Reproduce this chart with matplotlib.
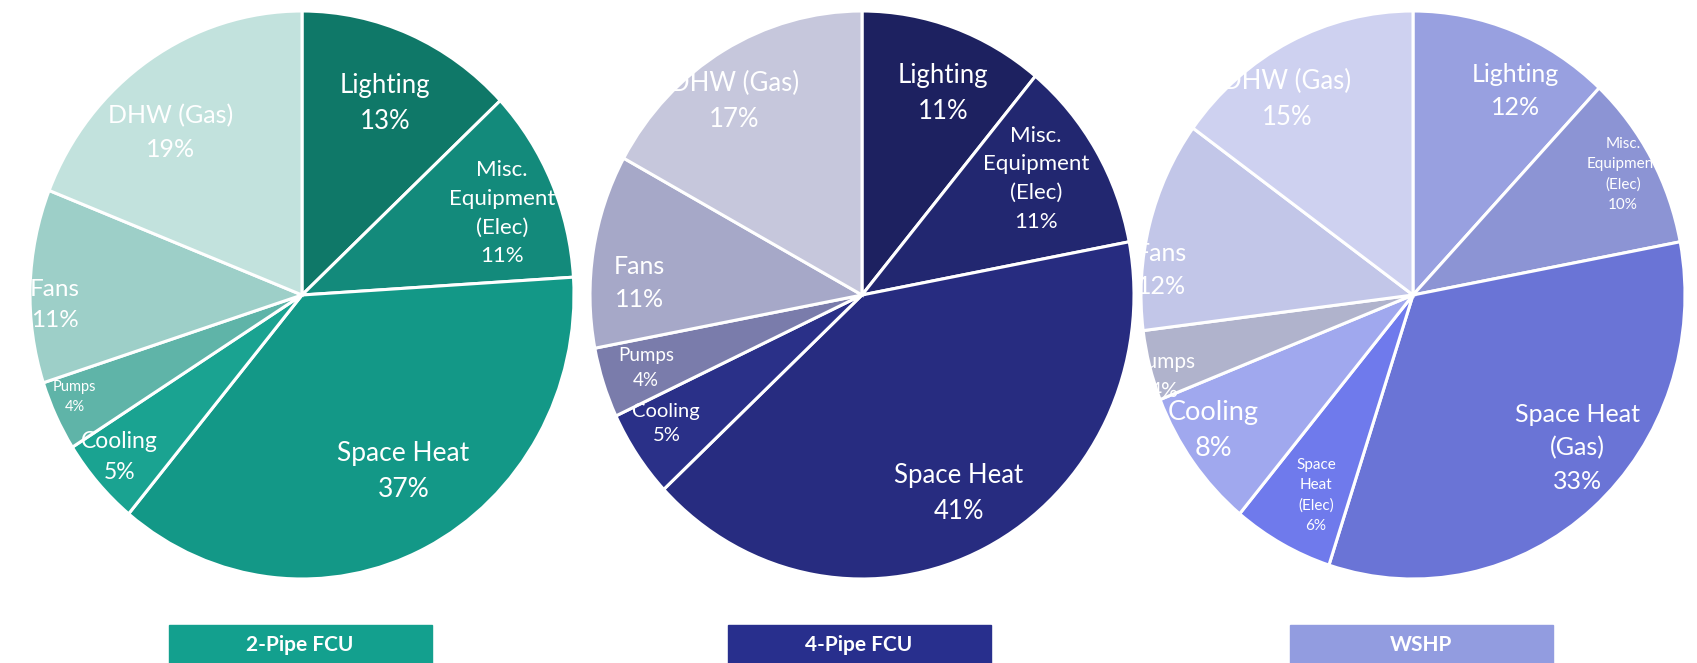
import numpy as np
import matplotlib.pyplot as plt
from matplotlib.patches import Rectangle

plt.rcParams['font.family'] = ['Lato', 'DejaVu Sans']

W, H = 1697, 663

# energy end-use breakdown per HVAC system (clockwise from 12 o'clock)
systems = ["2-Pipe FCU", "4-Pipe FCU", "WSHP"]

fcu2_labels = ["Lighting", "Misc.\nEquipment\n(Elec)", "Space Heat", "Cooling",
               "Pumps", "Fans", "DHW (Gas)"]
fcu2_values = [13, 11, 37, 5, 4, 11, 19]

fcu4_labels = ["Lighting", "Misc.\nEquipment\n(Elec)", "Space Heat", "Cooling",
               "Pumps", "Fans", "DHW (Gas)"]
fcu4_values = [11, 11, 41, 5, 4, 11, 17]

wshp_labels = ["Lighting", "Misc.\nEquipment\n(Elec)", "Space Heat\n(Gas)",
               "Space\nHeat\n(Elec)", "Cooling", "Pumps", "Fans", "DHW (Gas)"]
wshp_values = [12, 10, 33, 6, 8, 4, 12, 15]

fcu2_colors = ["#0f7868", "#138a7b", "#139887", "#1aa391", "#5fb4a8", "#9dcfc8", "#c2e2dd"]
fcu4_colors = ["#1d2160", "#222770", "#272c80", "#2a3088", "#7a7cab", "#a6a8c8", "#c6c7dc"]
wshp_colors = ["#98a0e0", "#8c94d4", "#6a74d6", "#6f7aec", "#a0a8ee", "#b0b3cc", "#c2c6e8", "#ced1f0"]
box_colors = ["#13a08e", "#282f8d", "#929ce0"]

# label placement: radius fraction, angle nudge (deg) and font size per wedge
fcu2_rad = [0.74, 0.79, 0.725, 0.88, 0.91, 0.91, 0.75]
fcu2_nudge = [-1, -2, 4, -1, -2, 4, 6]
fcu2_fs = [18.5, 16, 19, 16.5, 10.5, 17.5, 18]
fcu4_rad = [0.77, 0.76, 0.785, 0.85, 0.835, 0.82, 0.826]
fcu4_nudge = [-3, 2, 0, -2, 0, 6, 4]
fcu4_fs = [18.5, 16, 18.5, 14.5, 13.5, 18, 18.5]
wshp_rad = [0.81, 0.88, 0.81, 0.79, 0.877, 0.96, 0.93, 0.83]
wshp_nudge = [-6, 0, 7, 2, -3, 3, 9, 7]
wshp_fs = [18, 11, 18, 11, 19.5, 15, 18, 18.5]

pies = [
    (fcu2_labels, fcu2_values, fcu2_colors, fcu2_rad, fcu2_nudge, fcu2_fs),
    (fcu4_labels, fcu4_values, fcu4_colors, fcu4_rad, fcu4_nudge, fcu4_fs),
    (wshp_labels, wshp_values, wshp_colors, wshp_rad, wshp_nudge, wshp_fs),
]
centers_x = [302, 862, 1413]
box_centers = [300, 859, 1421]
cy, rx, ry = 295, 272, 284

fig = plt.figure(figsize=(W / 100, H / 100), dpi=100)
fig.patch.set_facecolor("white")

for i, (labels, values, colors, rads, nudges, sizes) in enumerate(pies):
    cx = centers_x[i]
    ax = fig.add_axes([(cx - rx) / W, (H - cy - ry) / H, 2 * rx / W, 2 * ry / H])
    ax.pie(values, colors=colors, startangle=90, counterclock=False, radius=1,
           wedgeprops=dict(edgecolor="white", linewidth=2.2))
    ax.set_xlim(-1, 1)
    ax.set_ylim(-1, 1)
    ax.set_aspect("auto")
    ax.axis("off")

    total = sum(values)
    cum = 0
    for lab, v, r, nd, fs in zip(labels, values, rads, nudges, sizes):
        theta = np.deg2rad(90 - 360 * (cum + v / 2) / total + nd)
        cum += v
        ax.text(r * np.cos(theta), r * np.sin(theta), f"{lab}\n{v}%",
                ha="center", va="center", color="white", fontsize=fs,
                linespacing=1.55)

    # system name box under each pie
    bw = 263
    bx = box_centers[i]
    fig.patches.append(Rectangle(((bx - bw / 2) / W, 0), bw / W, (H - 625) / H,
                                 transform=fig.transFigure, color=box_colors[i],
                                 zorder=1))
    fig.text(bx / W, (H - 645) / H, systems[i], ha="center", va="center",
             color="white", fontsize=15, fontweight="bold")

fig.savefig("out.png", dpi=100, facecolor="white")
